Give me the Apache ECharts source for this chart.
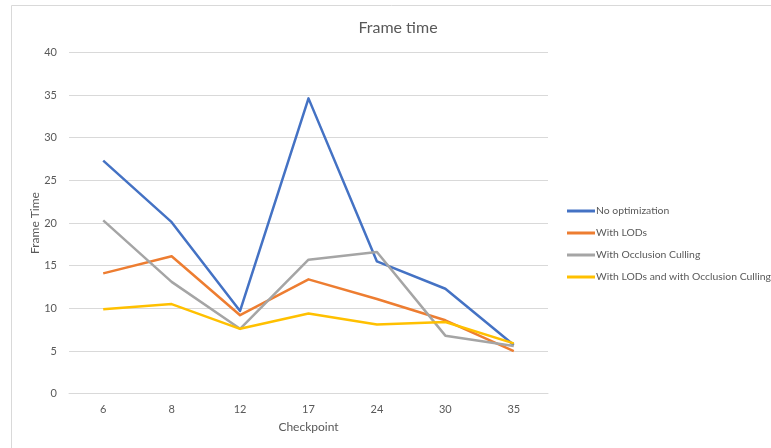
<!DOCTYPE html>
<html>
<head>
<meta charset="utf-8">
<script src="https://cdn.jsdelivr.net/npm/echarts@6/dist/echarts.min.js"></script>
<style>
  html, body { margin: 0; padding: 0; background: #fff; }
  #chart { width: 771px; height: 448px; }
</style>
</head>
<body>
<div id="chart"></div>
<script>
// Frame time per checkpoint for each optimization setup
const checkpoints = ['6', '8', '12', '17', '24', '30', '35'];
const noOptimization = [27.3, 20.1, 9.7, 34.6, 15.5, 12.3, 5.7];
const withLODs = [14.1, 16.1, 9.2, 13.4, 11.1, 8.6, 5.0];
const withOcclusion = [20.3, 13.1, 7.6, 15.7, 16.6, 6.8, 5.6];
const withLODsAndOcclusion = [9.9, 10.5, 7.6, 9.4, 8.1, 8.4, 5.9];

const seriesNames = [
  'No optimization',
  'With LODs',
  'With Occlusion Culling',
  'With LODs and with Occlusion Culling'
];
const seriesData = [noOptimization, withLODs, withOcclusion, withLODsAndOcclusion];
const colors = ['#4472C4', '#ED7D31', '#A5A5A5', '#FFC000'];

const FONT = 'Lato, "Open Sans", sans-serif';
const TEXT = '#595959';

const chart = echarts.init(document.getElementById('chart'));
chart.setOption({
  animation: false,
  color: colors,
  graphic: [{
    type: 'rect',
    shape: { x: 11.5, y: 5.5, width: 800, height: 500 },
    style: { fill: 'none', stroke: '#d9d9d9', lineWidth: 1 },
    silent: true
  }],
  title: {
    text: 'Frame time',
    left: 393,
    top: 15,
    textAlign: 'center',
    textStyle: { fontFamily: FONT, fontSize: 16, fontWeight: 'normal', color: TEXT }
  },
  legend: {
    orient: 'vertical',
    left: 567,
    top: 206,
    padding: 0,
    itemWidth: 28,
    itemHeight: 3,
    itemGap: 12,
    icon: 'rect',
    data: seriesNames,
    textStyle: { fontFamily: FONT, fontSize: 10.4, color: TEXT, padding: [0, 0, 0, -4], overflow: 'none' }
  },
  grid: { left: 69, right: 223, top: 52.3, bottom: 54.3, containLabel: false },
  xAxis: {
    type: 'category',
    data: checkpoints,
    boundaryGap: true,
    name: 'Checkpoint',
    nameLocation: 'middle',
    nameGap: 27,
    nameMoveOverlap: false,
    nameTextStyle: { fontFamily: FONT, fontSize: 12, color: TEXT },
    axisLine: { lineStyle: { color: '#d9d9d9', width: 1 } },
    axisTick: { show: false },
    axisLabel: { fontFamily: FONT, fontSize: 11, color: TEXT, margin: 10 }
  },
  yAxis: {
    type: 'value',
    min: 0,
    max: 40,
    interval: 5,
    name: 'Frame Time',
    nameLocation: 'middle',
    nameGap: 28,
    nameMoveOverlap: false,
    nameTextStyle: { fontFamily: FONT, fontSize: 12, color: TEXT },
    axisLine: { show: false },
    axisTick: { show: false },
    axisLabel: { fontFamily: FONT, fontSize: 11, color: TEXT, margin: 12 },
    splitLine: { lineStyle: { color: '#d9d9d9', width: 1 } }
  },
  series: seriesNames.map((name, i) => ({
    name,
    type: 'line',
    data: seriesData[i],
    showSymbol: false,
    symbol: 'none',
    lineStyle: { width: 2.5, color: colors[i], join: 'round' },
    itemStyle: { color: colors[i] },
    z: 2 + i
  }))
});
</script>
</body>
</html>
